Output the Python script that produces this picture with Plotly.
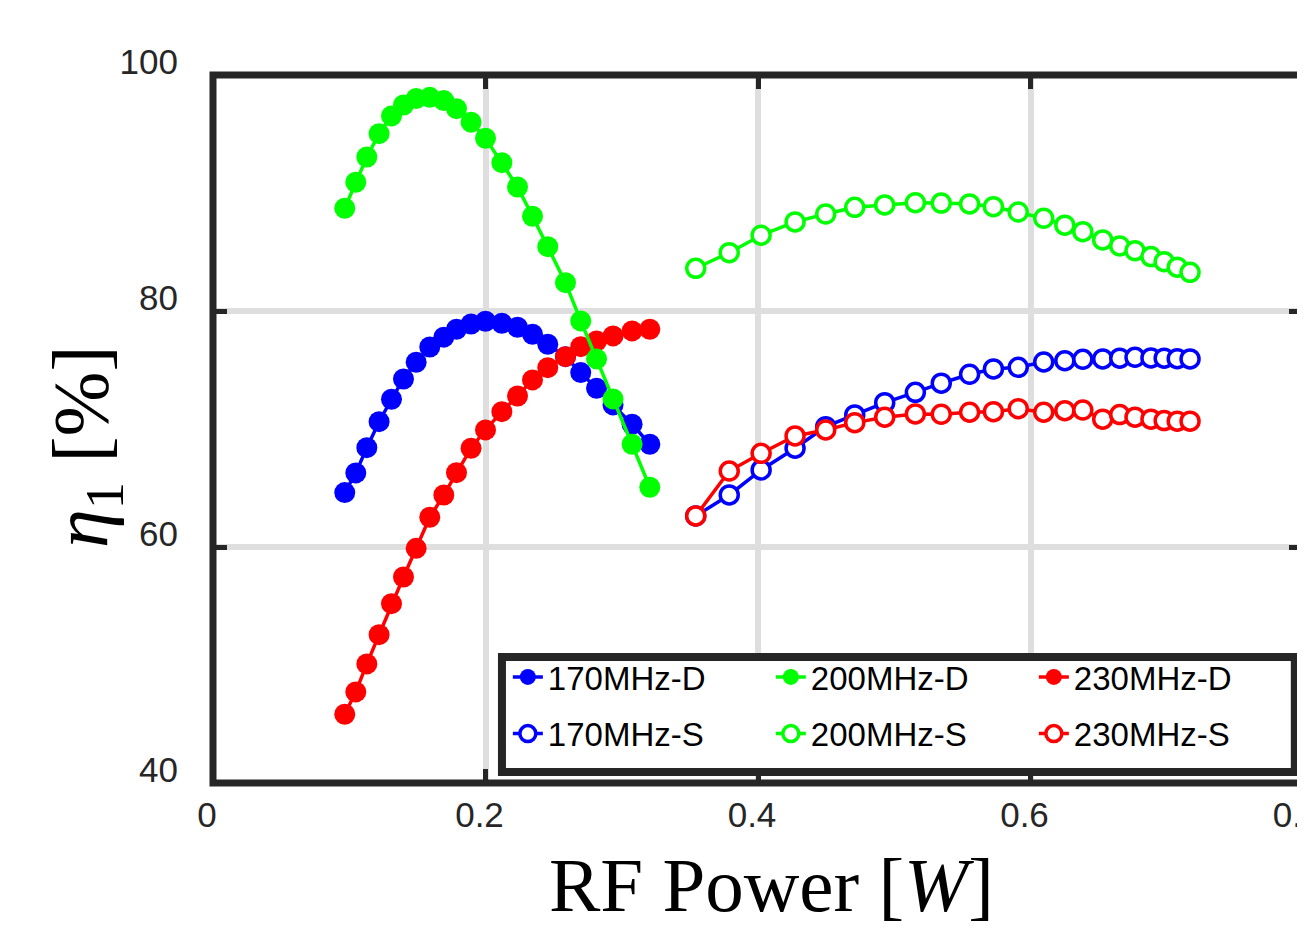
import plotly.graph_objects as go

# ---------------- data ----------------
power_d = [0.0967, 0.1048, 0.1129, 0.1219, 0.1310, 0.1398, 0.1491, 0.1591, 0.1694, 0.1787, 0.1894,
           0.2000, 0.2120, 0.2235, 0.2345, 0.2457, 0.2587, 0.2699, 0.2815, 0.2936, 0.3076, 0.3206]
eta_170_d = [64.61, 66.28, 68.42, 70.62, 72.52, 74.24, 75.66, 76.95, 77.78, 78.45, 78.90,
             79.13, 78.96, 78.62, 78.03, 77.18, 76.13, 74.78, 73.45, 72.04, 70.40, 68.71]
eta_200_d = [88.71, 90.91, 93.05, 95.03, 96.53, 97.46, 98.00, 98.11, 97.83, 97.15, 96.00,
             94.64, 92.57, 90.51, 88.03, 85.45, 82.40, 79.16, 75.94, 72.55, 68.71, 65.06]
eta_230_d = [45.83, 47.72, 50.09, 52.57, 55.20, 57.46, 59.89, 62.52, 64.41, 66.30, 68.37,
             69.92, 71.47, 72.80, 74.16, 75.20, 76.13, 76.98, 77.46, 77.89, 78.31, 78.45]

power_s = [0.3543, 0.3789, 0.4023, 0.4272, 0.4497, 0.4710, 0.4930, 0.5155, 0.5345, 0.5553, 0.5728,
           0.5910, 0.6097, 0.6252, 0.6384, 0.6530, 0.6655, 0.6767, 0.6884, 0.6981, 0.7077, 0.7171]
eta_170_s = [62.63, 64.41, 66.53, 68.37, 70.20, 71.19, 72.23, 73.11, 73.88, 74.64, 75.09,
             75.23, 75.68, 75.79, 75.91, 75.94, 76.00, 76.08, 76.02, 76.00, 75.96, 75.94]
eta_200_s = [83.62, 84.94, 86.42, 87.55, 88.22, 88.79, 88.99, 89.18, 89.15, 89.07, 88.84,
             88.39, 87.86, 87.27, 86.72, 86.02, 85.51, 85.11, 84.61, 84.18, 83.71, 83.28]
eta_230_s = [62.63, 66.44, 67.94, 69.41, 69.92, 70.54, 71.00, 71.28, 71.25, 71.42, 71.47,
             71.72, 71.42, 71.55, 71.61, 70.83, 71.22, 71.00, 70.83, 70.71, 70.66, 70.66]

x_ticks = [0, 0.2, 0.4, 0.6, 0.8]
x_tick_text = ["0", "0.2", "0.4", "0.6", "0.8"]
y_ticks = [40, 60, 80, 100]
y_tick_text = ["40", "60", "80", "100"]

BLUE, GREEN, RED = "#0000ff", "#00ff00", "#ff0000"
DARK = "#262626"

fig = go.Figure()

def filled(x, y, name, color, rank):
    return go.Scatter(x=x, y=y, mode="lines+markers", name=name,
                      line=dict(color=color, width=3.5),
                      marker=dict(size=21, color=color, line=dict(width=0)),
                      legend="legend", legendrank=rank)

def hollow(x, y, name, color, rank):
    return go.Scatter(x=x, y=y, mode="lines+markers", name=name,
                      line=dict(color=color, width=3.5),
                      marker=dict(size=18, color="white", line=dict(color=color, width=3.5)),
                      legend="legend2", legendrank=rank)

# drawing order: blue, red, green (green on top)
fig.add_trace(filled(power_d, eta_170_d, "170MHz-D", BLUE, 1))
fig.add_trace(hollow(power_s, eta_170_s, "170MHz-S", BLUE, 1))
fig.add_trace(filled(power_d, eta_230_d, "230MHz-D", RED, 3))
fig.add_trace(hollow(power_s, eta_230_s, "230MHz-S", RED, 3))
fig.add_trace(filled(power_d, eta_200_d, "200MHz-D", GREEN, 2))
fig.add_trace(hollow(power_s, eta_200_s, "200MHz-S", GREEN, 2))

tickfont = dict(family="Liberation Sans, Arial, sans-serif", size=35, color=DARK)

fig.update_xaxes(range=[0, 0.8], tickvals=x_ticks, ticktext=x_tick_text, automargin=False,
                 showgrid=True, gridcolor="#dedede", gridwidth=6, zeroline=False,
                 showline=False, ticks="inside", ticklen=14, tickwidth=5, tickcolor=DARK,
                 mirror="ticks", tickfont=tickfont, ticklabelstandoff=8, ticklabelshift=-6,
                 ticklabeloverflow="allow")
fig.update_yaxes(range=[40, 100], tickvals=y_ticks, ticktext=y_tick_text, automargin=False,
                 showgrid=True, gridcolor="#dedede", gridwidth=6, zeroline=False,
                 showline=False, ticks="inside", ticklen=14, tickwidth=5, tickcolor=DARK,
                 mirror="ticks", tickfont=tickfont, ticklabelstandoff=34, ticklabelshift=-13,
                 ticklabeloverflow="allow")

legend_font = dict(family="Liberation Sans, Arial, sans-serif", size=33, color="black")
common_legend = dict(orientation="h", xref="paper", yref="paper", x=0.2705, xanchor="left",
                     yanchor="middle", bgcolor="rgba(0,0,0,0)", borderwidth=0,
                     font=legend_font, entrywidth=218, entrywidthmode="pixels",
                     itemclick=False, itemdoubleclick=False)

# page body has an 8px margin, so the figure is sized 8px smaller than the window
fig.update_layout(
    width=1297, height=925,
    margin=dict(l=205, r=2, t=67, b=150, pad=0),
    plot_bgcolor="white", paper_bgcolor="white",
    showlegend=True,
    legend=dict(common_legend, y=0.1497),
    legend2=dict(common_legend, y=0.0697),
    shapes=[
        # axes box
        dict(type="rect", xref="paper", yref="paper", x0=0, x1=1, y0=0, y1=1,
             line=dict(color=DARK, width=7), fillcolor="rgba(0,0,0,0)", layer="above"),
        # legend box
        dict(type="rect", xref="paper", yref="paper", x0=0.2651, x1=0.9925, y0=0.0155, y1=0.178,
             line=dict(color=DARK, width=8), fillcolor="white", layer="above"),
    ],
    annotations=[
        dict(text="RF Power [<i>W</i>]", xref="paper", yref="paper", x=0.5128, y=-0.1445,
             xanchor="center", yanchor="middle", showarrow=False,
             font=dict(family="Liberation Serif, Times New Roman, serif", size=77, color="black")),
        dict(text="<i>η</i><sub>1</sub> [%]", xref="paper", yref="paper", x=-0.1165, y=0.4746,
             xanchor="center", yanchor="middle", showarrow=False, textangle=-90,
             font=dict(family="Liberation Serif, Times New Roman, serif", size=78, color="black")),
    ],
)

fig.write_html("out.html")
